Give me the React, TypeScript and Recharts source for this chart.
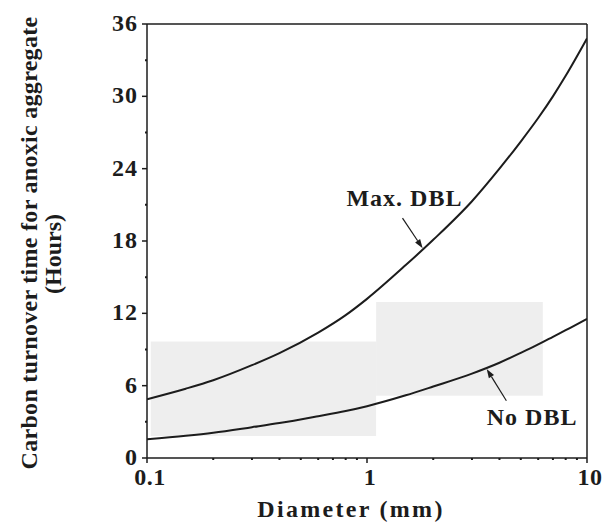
import React from "react";
import {
  ComposedChart,
  Line,
  XAxis,
  YAxis,
  ReferenceArea,
  ReferenceLine,
  ReferenceDot,
  Label,
} from "recharts";

// diameter (mm), log scale
const diameters = [0.1, 0.15, 0.2, 0.3, 0.4, 0.6, 0.8, 1, 1.5, 2, 3, 4, 5, 6, 7, 8, 10];
// carbon turnover time (hours)
const maxDbl = [4.88, 5.75, 6.45, 7.7, 8.7, 10.4, 11.85, 13.2, 16.0, 18.1, 21.3, 24.0, 26.25, 28.2, 30.0, 31.7, 34.8];
const noDbl = [1.56, 1.85, 2.1, 2.56, 2.9, 3.47, 3.9, 4.3, 5.2, 5.93, 7.0, 7.9, 8.72, 9.42, 10.05, 10.6, 11.55];

const xTicks = [0.1, 0.2, 0.3, 0.4, 0.5, 0.6, 0.7, 0.8, 0.9, 1, 2, 3, 4, 5, 6, 7, 8, 9, 10];
const xLabels = [0.1, 1, 10];
const yTicks = [0, 3, 6, 9, 12, 15, 18, 21, 24, 27, 30, 33, 36];
const yLabels = [0, 6, 12, 18, 24, 30, 36];

// grey stippled patches of the original
const shadePatches = [
  { x1: 0.104, x2: 1.1, y1: 1.83, y2: 9.67 },
  { x1: 1.1, x2: 6.3, y1: 5.17, y2: 12.94 },
];

// annotations (data coords)
const notes = [
  { text: "Max. DBL", x: 1.48, y: 20.9, from: [1.45, 19.9], to: [1.79, 17.4] },
  { text: "No DBL", x: 5.63, y: 2.7, from: [4.3, 4.75], to: [3.5, 7.39] },
];

const data = diameters.map((d, i) => ({ d, maxDbl: maxDbl[i], noDbl: noDbl[i] }));

const FONT = "'Liberation Serif', 'Times New Roman', serif";
const INK = "#1c1c1c";

const XTick = (props: any) => {
  const { x, y, payload } = props;
  const major = xLabels.includes(payload.value);
  return (
    <g>
      <line x1={x} y1={y} x2={x} y2={y + (major ? 5 : 2)} stroke={INK} strokeWidth={major ? 1.5 : 2} />
      {major && (
        <text x={x + 3} y={y + 27} textAnchor="middle" fontFamily={FONT} fontWeight="bold" fontSize={24} fill={INK} letterSpacing={0.5}>
          {payload.value}
        </text>
      )}
    </g>
  );
};

const YTick = (props: any) => {
  const { x, y, payload } = props;
  const major = yLabels.includes(payload.value);
  return (
    <g>
      <line x1={x - (major ? 5 : 2)} y1={y} x2={x} y2={y} stroke={INK} strokeWidth={major ? 1.5 : 2} />
      {major && (
        <text x={x - 9} y={y + 7} textAnchor="end" fontFamily={FONT} fontWeight="bold" fontSize={24} fill={INK} letterSpacing={1}>
          {payload.value}
        </text>
      )}
    </g>
  );
};

const Arrow = (props: any) => {
  const { x1, y1, x2, y2 } = props;
  const a = Math.atan2(y2 - y1, x2 - x1);
  const L = 9;
  const W = 3;
  const bx = x2 - L * Math.cos(a);
  const by = y2 - L * Math.sin(a);
  const px = -Math.sin(a) * W;
  const py = Math.cos(a) * W;
  return (
    <g>
      <line x1={x1} y1={y1} x2={bx} y2={by} stroke={INK} strokeWidth={1.2} />
      <polygon points={`${x2},${y2} ${bx + px},${by + py} ${bx - px},${by - py}`} fill={INK} />
    </g>
  );
};

export default function App() {
  return (
    <div>
      <style>{`body{margin:0;background:#fff}`}</style>
      <ComposedChart width={610} height={529} data={data} margin={{ top: 24, right: 23, bottom: 0, left: 0 }}>
        {shadePatches.map((p, i) => (
          <ReferenceArea key={i} x1={p.x1} x2={p.x2} y1={p.y1} y2={p.y2} fill="#000" fillOpacity={0.065} stroke="none" />
        ))}
        <XAxis
          dataKey="d"
          type="number"
          scale="log"
          domain={[0.1, 10]}
          ticks={xTicks}
          allowDataOverflow
          height={71}
          tickSize={0}
          tickMargin={0}
          tickLine={false}
          axisLine={{ stroke: INK, strokeWidth: 1.5 }}
          tick={<XTick />}
          interval={0}
        >
          <Label
            content={(p: any) => {
              const vb = p.viewBox;
              return (
                <text x={vb.x + vb.width / 2 - 16} y={vb.y + 59} textAnchor="middle" fontFamily={FONT} fontWeight="bold" fontSize={24} fill={INK} letterSpacing={2.3}>
                  Diameter (mm)
                </text>
              );
            }}
          />
        </XAxis>
        <YAxis
          type="number"
          domain={[0, 36]}
          ticks={yTicks}
          width={147}
          tickSize={0}
          tickMargin={0}
          tickLine={false}
          axisLine={{ stroke: INK, strokeWidth: 1.5 }}
          tick={<YTick />}
          interval={0}
        >
          <Label
            content={(p: any) => {
              const vb = p.viewBox;
              const cy = vb.y + vb.height / 2 + 2;
              return (
                <g fontFamily={FONT} fontWeight="bold" fontSize={24} fill={INK}>
                  <text x={vb.x + 37} y={cy} textAnchor="middle" letterSpacing={0.3} transform={`rotate(-90 ${vb.x + 37} ${cy})`}>
                    Carbon turnover time for anoxic aggregate
                  </text>
                  <text x={vb.x + 61} y={cy + 11} textAnchor="middle" transform={`rotate(-90 ${vb.x + 61} ${cy + 11})`}>
                    (Hours)
                  </text>
                </g>
              );
            }}
          />
        </YAxis>
        <ReferenceLine y={36} stroke={INK} strokeWidth={1.5} />
        <ReferenceLine x={10} stroke={INK} strokeWidth={1.5} />
        <Line type="monotone" dataKey="maxDbl" stroke={INK} strokeWidth={2} dot={false} isAnimationActive={false} />
        <Line type="monotone" dataKey="noDbl" stroke={INK} strokeWidth={2} dot={false} isAnimationActive={false} />
        {notes.map((n) => (
          <ReferenceLine
            key={n.text + "-arrow"}
            segment={[
              { x: n.from[0], y: n.from[1] },
              { x: n.to[0], y: n.to[1] },
            ]}
            shape={<Arrow />}
          />
        ))}
        {notes.map((n) => (
          <ReferenceDot
            key={n.text}
            x={n.x}
            y={n.y}
            r={0}
            shape={(p: any) => (
              <text x={p.cx} y={p.cy} textAnchor="middle" fontFamily={FONT} fontWeight="bold" fontSize={24} fill={INK} letterSpacing={1}>
                {n.text}
              </text>
            )}
          />
        ))}
      </ComposedChart>
    </div>
  );
}
